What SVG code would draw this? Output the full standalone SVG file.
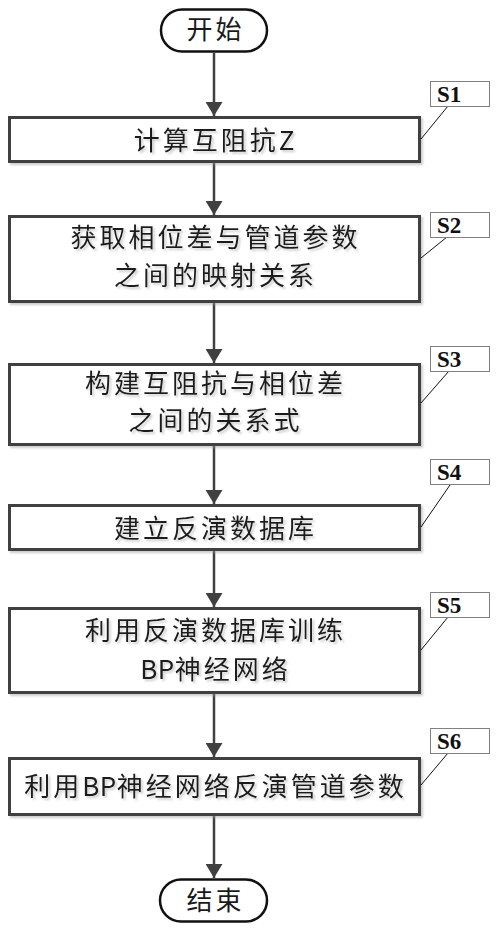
<svg xmlns="http://www.w3.org/2000/svg" width="497" height="931" viewBox="0 0 497 931">
<style>
.box{fill:#ffffff;stroke:#404040;stroke-width:3}
.term{fill:#ffffff;stroke:#111111;stroke-width:2.5}
.txt{font-family:"Noto Sans CJK SC","Microsoft YaHei",sans-serif;font-size:26px;fill:#1a1a1a;text-anchor:middle;letter-spacing:3px}
.lat{letter-spacing:0.5px}
.lab{fill:#ffffff;stroke:#808080;stroke-width:1}
.labt{font-family:"Liberation Serif","Times New Roman",serif;font-size:23px;font-weight:bold;fill:#111111}
.lead{stroke:#111111;stroke-width:1;fill:none}
.arr{stroke:#404040;stroke-width:2.5;fill:none;marker-end:url(#ah)}
</style>
<defs>
<marker id="ah" viewBox="0 0 14 17" refX="14" refY="8.5" markerWidth="14" markerHeight="17" markerUnits="userSpaceOnUse" orient="auto">
<path d="M0,0 L14,8.5 L0,17 z" fill="#404040"/>
</marker>
<filter id="sh" x="-5%" y="-20%" width="110%" height="140%">
<feDropShadow dx="2" dy="2" stdDeviation="1" flood-color="#9a9a9a" flood-opacity="0.5"/>
</filter>
</defs>
<rect width="497" height="931" fill="#ffffff"/>
<g id="connectors">
<line class="arr" x1="214" y1="53" x2="214" y2="116"/>
<line class="arr" x1="214" y1="163" x2="214" y2="215"/>
<line class="arr" x1="214" y1="303" x2="214" y2="363"/>
<line class="arr" x1="214" y1="446" x2="214" y2="504"/>
<line class="arr" x1="214" y1="551" x2="214" y2="607"/>
<line class="arr" x1="214" y1="694" x2="214" y2="757"/>
<line class="arr" x1="214" y1="816" x2="214" y2="878"/>
</g>
<g id="start">
<rect class="term" x="161" y="9.5" width="106" height="42" rx="21"/>
<text class="txt" x="215.5" y="39">开始</text>
</g>
<g id="s1">
<rect class="box" filter="url(#sh)" x="9.5" y="117.5" width="410" height="44"/>
<text class="txt" filter="url(#sh)" x="215.5" y="149.5">计算互阻抗Z</text>
<line class="lead" x1="448" y1="106" x2="421" y2="139"/>
<rect class="lab" x="430.5" y="81.5" width="59" height="25"/>
<text class="labt" x="437" y="102">S1</text>
</g>
<g id="s2">
<rect class="box" filter="url(#sh)" x="9.5" y="216.5" width="410" height="85"/>
<text class="txt" filter="url(#sh)" x="215.5" y="246.5">获取相位差与管道参数</text>
<text class="txt" filter="url(#sh)" x="215.5" y="284.5">之间的映射关系</text>
<line class="lead" x1="447" y1="237" x2="421" y2="258"/>
<rect class="lab" x="430.5" y="212.5" width="59" height="25"/>
<text class="labt" x="437" y="233">S2</text>
</g>
<g id="s3">
<rect class="box" filter="url(#sh)" x="9.5" y="364.5" width="410" height="80"/>
<text class="txt" filter="url(#sh)" x="215.5" y="393">构建互阻抗与相位差</text>
<text class="txt" filter="url(#sh)" x="215.5" y="430">之间的关系式</text>
<line class="lead" x1="449" y1="371" x2="421" y2="403"/>
<rect class="lab" x="430.5" y="346.5" width="59" height="25"/>
<text class="labt" x="437" y="367">S3</text>
</g>
<g id="s4">
<rect class="box" filter="url(#sh)" x="9.5" y="505.5" width="410" height="44"/>
<text class="txt" filter="url(#sh)" x="215.5" y="538">建立反演数据库</text>
<line class="lead" x1="450" y1="485" x2="421" y2="527"/>
<rect class="lab" x="430.5" y="459.5" width="59" height="25"/>
<text class="labt" x="437" y="480">S4</text>
</g>
<g id="s5">
<rect class="box" filter="url(#sh)" x="9.5" y="608.5" width="410" height="84"/>
<text class="txt" filter="url(#sh)" x="215.5" y="640">利用反演数据库训练</text>
<text class="txt" filter="url(#sh)" x="215.5" y="679"><tspan class="lat">BP</tspan>神经网络</text>
<line class="lead" x1="448" y1="617" x2="421" y2="650"/>
<rect class="lab" x="430.5" y="592.5" width="59" height="25"/>
<text class="labt" x="437" y="613">S5</text>
</g>
<g id="s6">
<rect class="box" filter="url(#sh)" x="9.5" y="758.5" width="410" height="56"/>
<text class="txt" filter="url(#sh)" x="215.5" y="796">利用<tspan class="lat">BP</tspan>神经网络反演管道参数</text>
<line class="lead" x1="448" y1="753" x2="421" y2="785"/>
<rect class="lab" x="430.5" y="728.5" width="59" height="25"/>
<text class="labt" x="437" y="749">S6</text>
</g>
<g id="end">
<rect class="term" x="160" y="879.5" width="107" height="42" rx="21"/>
<text class="txt" x="215.5" y="910">结束</text>
</g>
</svg>
